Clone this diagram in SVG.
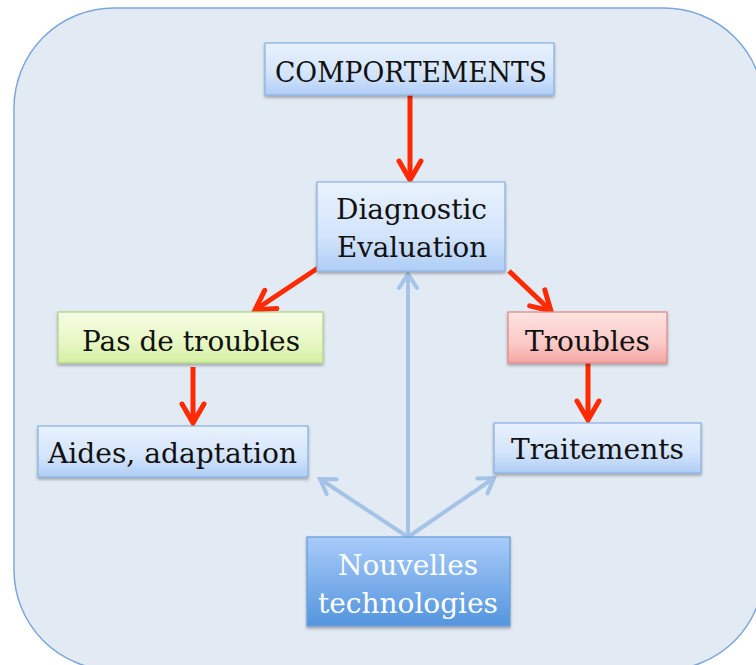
<svg xmlns="http://www.w3.org/2000/svg" width="756" height="665" viewBox="0 0 756 665">
<style>
.t{font-family:"DejaVu Serif","Liberation Serif",serif;font-size:27px;fill:#111;text-anchor:middle}
.w{fill:#fff}
.red{stroke:#ff2a00;stroke-width:5;fill:none}
.blu{stroke:#a4c3e7;stroke-width:4;fill:none}
.box{stroke-width:1.3;filter:url(#sh)}
</style>
<defs>
<linearGradient id="gb" x1="0" y1="0" x2="0" y2="1"><stop offset="0" stop-color="#e9f2fe"/><stop offset="0.6" stop-color="#d3e4fb"/><stop offset="1" stop-color="#afcdf6"/></linearGradient>
<linearGradient id="gg" x1="0" y1="0" x2="0" y2="1"><stop offset="0" stop-color="#f5fce4"/><stop offset="0.6" stop-color="#e7f7c4"/><stop offset="1" stop-color="#d3eea0"/></linearGradient>
<linearGradient id="gr" x1="0" y1="0" x2="0" y2="1"><stop offset="0" stop-color="#fde3e1"/><stop offset="0.6" stop-color="#fbcac7"/><stop offset="1" stop-color="#f5a6a3"/></linearGradient>
<linearGradient id="gn" x1="0" y1="0" x2="0" y2="1"><stop offset="0" stop-color="#a8cbf9"/><stop offset="1" stop-color="#5395de"/></linearGradient>
<filter id="sh" x="-10%" y="-20%" width="120%" height="150%"><feDropShadow dx="0" dy="2" stdDeviation="1.5" flood-color="#000" flood-opacity="0.3"/></filter>
<marker id="ar" viewBox="-26 -16 30 32" markerWidth="30" markerHeight="32" refX="0" refY="0" orient="auto" markerUnits="userSpaceOnUse">
<path d="M-19,-11 L0,0 L-19,11" fill="none" stroke="#ff2a00" stroke-width="5" stroke-linecap="round" stroke-linejoin="miter"/>
</marker>
<marker id="ab" viewBox="-22 -14 26 28" markerWidth="26" markerHeight="28" refX="0" refY="0" orient="auto" markerUnits="userSpaceOnUse">
<path d="M-14,-9 L0,0 L-14,9" fill="none" stroke="#a4c3e7" stroke-width="4" stroke-linecap="round"/>
</marker>
</defs>
<rect x="14" y="8" width="750" height="662" rx="100" ry="100" fill="#e2eaf4" stroke="#7ea7d8" stroke-width="1.5"/>
<g id="connectors">
<path class="red" d="M410,95 L410,180" marker-end="url(#ar)"/>
<path class="red" d="M318,268 L255,310" marker-end="url(#ar)"/>
<path class="red" d="M509,271 L551,311" marker-end="url(#ar)"/>
<path class="red" d="M193,367 L193,423" marker-end="url(#ar)"/>
<path class="red" d="M588,363 L588,420" marker-end="url(#ar)"/>
<path class="blu" d="M408,537 L408,274" marker-end="url(#ab)"/>
<path class="blu" d="M408,537 L320,479" marker-end="url(#ab)"/>
<path class="blu" d="M408,537 L494,478" marker-end="url(#ab)"/>
</g>
<g id="comportements">
<rect class="box" x="265" y="43" width="289" height="52" fill="url(#gb)" stroke="#8db3e2"/>
<text class="t" x="411" y="82" textLength="272" lengthAdjust="spacingAndGlyphs">COMPORTEMENTS</text>
</g>
<g id="diagnostic">
<rect class="box" x="317" y="182" width="188" height="89" fill="url(#gb)" stroke="#8db3e2"/>
<text class="t" x="411.5" y="219" textLength="151" lengthAdjust="spacingAndGlyphs">Diagnostic</text>
<text class="t" x="412" y="257" textLength="150" lengthAdjust="spacingAndGlyphs">Evaluation</text>
</g>
<g id="pas-de-troubles">
<rect class="box" x="58" y="312" width="265" height="51" fill="url(#gg)" stroke="#b3d48c"/>
<text class="t" x="191" y="351" textLength="218" lengthAdjust="spacingAndGlyphs">Pas de troubles</text>
</g>
<g id="troubles">
<rect class="box" x="508" y="312" width="159" height="51" fill="url(#gr)" stroke="#e08c89"/>
<text class="t" x="587.5" y="351" textLength="125" lengthAdjust="spacingAndGlyphs">Troubles</text>
</g>
<g id="aides">
<rect class="box" x="38" y="426" width="270" height="51" fill="url(#gb)" stroke="#8db3e2"/>
<text class="t" x="172.5" y="463" textLength="249" lengthAdjust="spacingAndGlyphs">Aides, adaptation</text>
</g>
<g id="traitements">
<rect class="box" x="494" y="423" width="207" height="50" fill="url(#gb)" stroke="#8db3e2"/>
<text class="t" x="597.5" y="459" textLength="173" lengthAdjust="spacingAndGlyphs">Traitements</text>
</g>
<g id="nouvelles">
<rect class="box" x="307" y="537" width="203" height="89" fill="url(#gn)" stroke="#6c9fd8"/>
<text class="t w" x="408" y="575" textLength="140" lengthAdjust="spacingAndGlyphs">Nouvelles</text>
<text class="t w" x="408" y="613" textLength="180" lengthAdjust="spacingAndGlyphs">technologies</text>
</g>
</svg>
